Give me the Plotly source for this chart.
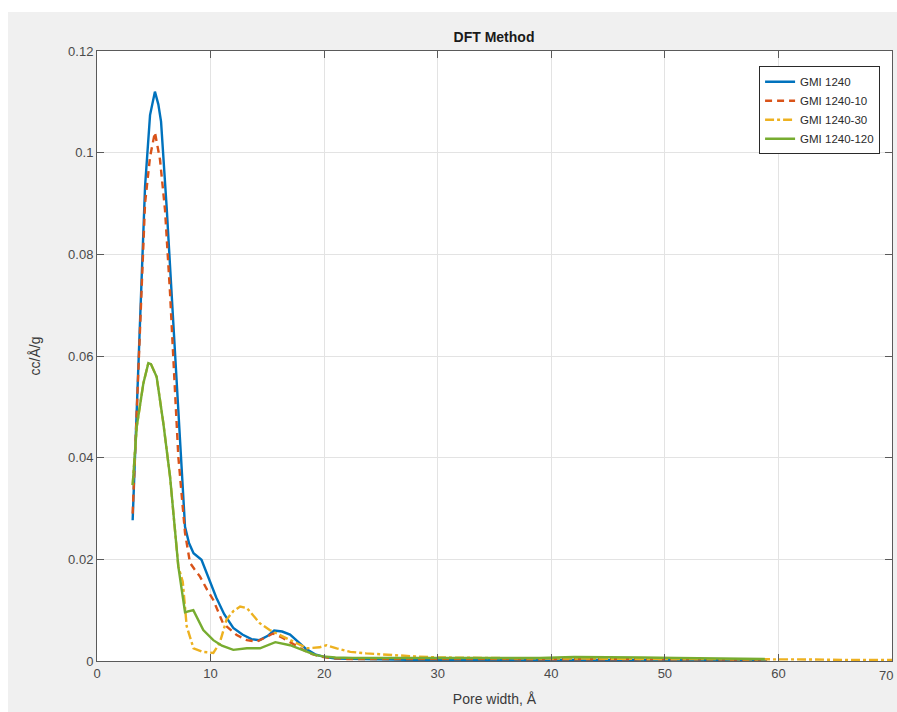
import plotly.graph_objects as go

# Pore size distributions (DFT), pore width in Angstrom vs cc/Å/g
x_1240 = [3.14, 3.7, 4.23, 4.67, 5.1, 5.4, 5.64, 6.13, 6.6, 7.1, 7.75, 8.1, 8.5, 9.2, 9.8,
          10.5, 11.2, 12.0, 12.8, 13.6, 14.3, 15.0, 15.6, 16.3, 17.0, 17.7, 18.4, 19.2, 20.0,
          21.0, 22.5, 24, 26, 28, 30, 33, 36, 39, 42, 45, 48, 51, 54, 57, 59]
y_1240 = [0.0277, 0.060, 0.0933, 0.1074, 0.112, 0.1095, 0.1061, 0.0894, 0.0715, 0.051, 0.0264,
          0.0232, 0.0212, 0.0199, 0.0165, 0.0125, 0.0092, 0.0065, 0.0052, 0.0043, 0.0041, 0.0049,
          0.006, 0.0058, 0.0052, 0.0038, 0.0024, 0.0013, 0.0008, 0.0005, 0.0004, 0.0003, 0.0003,
          0.0002, 0.0002, 0.0002, 0.0002, 0.0002, 0.0002, 0.0002, 0.0002, 0.0002, 0.0002, 0.0002,
          0.0002]

x_1240_10 = [3.14, 3.7, 4.23, 4.67, 5.1, 5.55, 5.99, 6.43, 6.8, 7.16, 7.75, 8.19, 8.6, 9.07, 9.7,
             10.24, 11.1, 12.3, 13.2, 14.06, 14.8, 15.5, 16.4, 17.2, 17.9, 18.7, 19.6, 20.5, 22,
             24, 26, 28, 30, 33, 36, 39, 42, 45, 48, 51, 54, 57, 59]
y_1240_10 = [0.029, 0.060, 0.090, 0.0992, 0.104, 0.0986, 0.0887, 0.0724, 0.057, 0.0402, 0.0252,
             0.0193, 0.018, 0.0166, 0.014, 0.012, 0.0074, 0.0051, 0.0041, 0.0038, 0.0046, 0.0054,
             0.0045, 0.0035, 0.0025, 0.0015, 0.0009, 0.0006, 0.0004, 0.0004, 0.0003, 0.0003,
             0.0003, 0.0003, 0.0003, 0.0003, 0.0003, 0.0003, 0.0003, 0.0003, 0.0003, 0.0003, 0.0003]

x_1240_30 = [3.14, 3.5, 4.08, 4.52, 4.75, 5.25, 5.84, 6.43, 7.16, 7.55, 7.9, 8.5, 9.3, 10.24,
             10.8, 11.4, 12.0, 12.6, 13.2, 14.35, 15.2, 16.1, 17.3, 18.5, 19.6, 20.2, 21.1, 22.3,
             23.7, 25, 26.4, 28, 30, 33, 36, 39, 42, 45, 48, 51, 54, 57, 60, 63, 66, 70]
y_1240_30 = [0.0346, 0.0461, 0.0546, 0.0586, 0.0584, 0.0559, 0.0468, 0.0363, 0.0186,
             0.0156, 0.0068, 0.0025, 0.0018, 0.0016, 0.0035, 0.0081, 0.0098, 0.0107, 0.0104,
             0.0074, 0.0061, 0.0051, 0.0038, 0.0025, 0.0027, 0.0031, 0.0025, 0.0018, 0.0015,
             0.0013, 0.0012, 0.0009, 0.0007, 0.0006, 0.0005, 0.0005, 0.0005, 0.0004, 0.0004,
             0.0004, 0.0004, 0.0003, 0.0003, 0.0003, 0.0002, 0.0002]

x_1240_120 = [3.14, 3.5, 4.08, 4.52, 4.75, 5.25, 5.84, 6.43, 7.16, 7.75, 8.48, 9.36, 10.24, 11.0,
              12.0, 13.2, 14.35, 15.0, 15.7, 17.0, 17.8, 18.5, 19.2, 19.9, 21, 22.5, 24, 26, 28,
              30, 33, 36, 39, 42, 45, 48, 51, 54, 57, 58.8]
y_1240_120 = [0.0346, 0.0461, 0.0546, 0.0586, 0.0584, 0.0559, 0.0468, 0.0363, 0.0186, 0.0096,
              0.0100, 0.0061, 0.0041, 0.003, 0.0022, 0.0025, 0.0025, 0.0031, 0.0037, 0.0031,
              0.0024, 0.0018, 0.0012, 0.0009, 0.0007, 0.0006, 0.0006, 0.0005, 0.0005, 0.0005,
              0.0005, 0.0005, 0.0006, 0.0008, 0.0008, 0.0007, 0.0006, 0.0005, 0.0004, 0.0004]

x_ticks = [0, 10, 20, 30, 40, 50, 60, 70]
y_ticks = [0, 0.02, 0.04, 0.06, 0.08, 0.1, 0.12]
y_tick_text = ["0", "0.02", "0.04", "0.06", "0.08", "0.1", "0.12"]

FONT = "Liberation Sans, Arial, sans-serif"
TICK_FONT = dict(family=FONT, size=13, color="#4a4a4a")

series = [
    ("GMI 1240", x_1240, y_1240, "#0072BD", "solid"),
    ("GMI 1240-10", x_1240_10, y_1240_10, "#D95319", "7px,5px"),
    ("GMI 1240-30", x_1240_30, y_1240_30, "#EDB120", "dashdot"),
    ("GMI 1240-120", x_1240_120, y_1240_120, "#77AC30", "solid"),
]

fig = go.Figure()
for name, xs, ys, color, dash in series:
    fig.add_trace(go.Scatter(x=xs, y=ys, name=name, mode="lines",
                             line=dict(color=color, width=2.4, dash=dash)))

axis_common = dict(
    showline=True, linecolor="#5a5a5a", linewidth=1, mirror="ticks",
    ticks="inside", ticklen=7, tickcolor="#5a5a5a",
    showgrid=True, gridcolor="#e3e3e3", gridwidth=1, zeroline=False,
    tickfont=TICK_FONT,
)

# the last x tick label sits on the page edge; draw it as text nudged inside
x_tick_text = [str(v) if v != x_ticks[-1] else "" for v in x_ticks]

fig.update_layout(
    width=897, height=712,
    margin=dict(l=97, r=5, t=51, b=51),
    paper_bgcolor="#f0f0f0", plot_bgcolor="#ffffff",
    title=dict(text="<b>DFT Method</b>", x=494 / 897, xanchor="center",
               y=1 - 37 / 712, yanchor="middle",
               font=dict(family=FONT, size=14, color="#1a1a1a")),
    xaxis=dict(range=[0, 70], tickvals=x_ticks, ticktext=x_tick_text, **axis_common,
               title=dict(text="Pore width, Å", standoff=14,
                          font=dict(family=FONT, size=14, color="#3a3a3a"))),
    yaxis=dict(range=[0, 0.12], tickvals=y_ticks, ticktext=y_tick_text, **axis_common,
               title=dict(text="cc/Å/g", standoff=24,
                          font=dict(family=FONT, size=14, color="#3a3a3a"))),
    legend=dict(x=0.985, y=0.975, xanchor="right", yanchor="top",
                bgcolor="#ffffff", bordercolor="#2a2a2a", borderwidth=1,
                font=dict(family=FONT, size=11.5, color="#2a2a2a"),
                tracegroupgap=0, itemwidth=30),
    showlegend=True,
    annotations=[
        dict(text=str(x_ticks[-1]), x=x_ticks[-1], xref="x", y=0, yref="paper",
             yanchor="top", xanchor="right", xshift=3, yshift=-5, showarrow=False,
             font=TICK_FONT),
    ],
    shapes=[
        # white band along the top and left of the figure
        dict(type="rect", xref="paper", yref="paper", layer="below",
             x0=-97 / 795, x1=1 + 5 / 795, y0=1 + 39 / 610, y1=1 + 51 / 610,
             fillcolor="#ffffff", line=dict(width=0)),
        dict(type="rect", xref="paper", yref="paper", layer="below",
             x0=-97 / 795, x1=-89 / 795, y0=-51 / 610, y1=1 + 51 / 610,
             fillcolor="#ffffff", line=dict(width=0)),
    ],
)

fig.write_html("out.html")
